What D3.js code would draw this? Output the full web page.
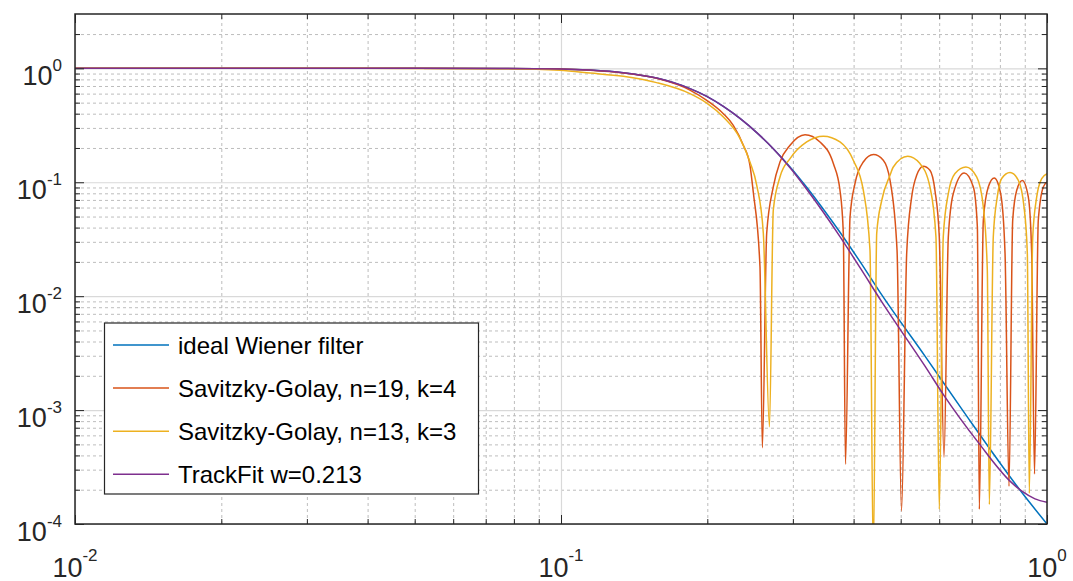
<!DOCTYPE html>
<html>
<head>
<meta charset="utf-8">
<script src="https://d3js.org/d3.v7.min.js"></script>
<style>
  body { margin: 0; padding: 0; background: #fff; }
  svg { display: block; font-family: "Liberation Sans", Arial, Helvetica, sans-serif; }
  .grid path { stroke: none; }
  .grid.major line { stroke: #d9d9d9; stroke-width: 1.2; }
  .grid.minor line { stroke: #bdbdbd; stroke-width: 1; stroke-dasharray: 3,3; }
  .frame { fill: none; stroke: #262626; stroke-width: 1.5; }
  .ticks path { stroke: none; }
  .ticks line { stroke: #262626; stroke-width: 1; }
  .curve { fill: none; stroke-width: 1.5; }
  .ticklabel { fill: #262626; font-size: 27px; }
  .legend text { font-size: 24px; fill: #000; }
</style>
</head>
<body>
<div id="chart"></div>
<script>
// ---- data: [frequency, gain] ----
var seriesNames = ["ideal Wiener filter", "Savitzky-Golay, n=19, k=4",
                   "Savitzky-Golay, n=13, k=3", "TrackFit w=0.213"];
var seriesColors = ["#0072bd", "#d95319", "#edb120", "#7e2f8e"];

var wiener = [[0.01,1],[0.03,1],[0.05,1],[0.0749,0.998],[0.0995,0.988],[0.1148,0.966],
  [0.1343,0.917],[0.1573,0.822],[0.1842,0.664],[0.1995,0.568],[0.2158,0.464],[0.2335,0.3636],
  [0.2528,0.2729],[0.2734,0.1971],[0.296,0.1365],[0.3203,0.0904],[0.3466,0.058],[0.375,0.0364],
  [0.4143,0.0195],[0.4575,0.0102],[0.561,0.00298],[0.668,0.00102],[0.891,1.85e-4],[1.0,1e-4]];

var sg19 = [[0.01,1],[0.03,1],[0.05,1],[0.0749,0.998],[0.0995,0.986],[0.1148,0.963],[0.1343,0.912],
  [0.1573,0.817],[0.1842,0.645],[0.1995,0.524],[0.2158,0.40],[0.2262,0.316],[0.2372,0.211],
  [0.2448,0.141],[0.2487,0.0817],[0.2567,0.0181],[0.2596,4.67e-4],[0.265,0.0357],[0.2734,0.091],
  [0.2822,0.1507],[0.296,0.211],[0.3178,0.261],[0.3411,0.2257],[0.3634,0.1459],[0.375,0.0851],
  [0.381,0.0355],[0.3849,3.34e-4],[0.3933,0.0496],[0.4026,0.0974],[0.4188,0.1507],[0.4395,0.175],
  [0.4604,0.156],[0.4753,0.1042],[0.4914,0.0253],[0.5019,1.3e-4],[0.5144,0.0238],[0.5267,0.0743],
  [0.5393,0.1151],[0.5564,0.1381],[0.5743,0.1274],[0.588,0.0851],[0.6003,0.0331],[0.6139,3.85e-4],
  [0.6265,0.0331],[0.6415,0.0796],[0.6757,0.1207],[0.7055,0.091],[0.719,0.0405],[0.7257,1.35e-4],
  [0.7396,0.0464],[0.7572,0.091],[0.779,0.109],[0.8028,0.0796],[0.8197,0.0238],[0.8353,2.15e-4],
  [0.85,0.0464],[0.8664,0.0851],[0.8896,0.1035],[0.9152,0.0743],[0.93,0.0238],[0.9425,2.75e-4],
  [0.9596,0.0464],[0.9826,0.091],[1.0,0.1006]];

var sg13 = [[0.01,1],[0.03,1],[0.05,0.999],[0.0749,0.992],[0.0995,0.960],[0.1148,0.909],[0.1343,0.851],
  [0.1573,0.749],[0.1842,0.600],[0.1995,0.496],[0.2158,0.374],[0.2335,0.243],[0.2448,0.1507],
  [0.2528,0.0941],[0.2608,0.0357],[0.2685,7.14e-4],[0.2734,0.0568],[0.2822,0.1113],[0.296,0.1614],
  [0.3203,0.2257],[0.3466,0.2532],[0.375,0.2257],[0.3994,0.156],[0.4188,0.0851],[0.4323,0.0253],
  [0.4391,5e-5],[0.4463,0.0357],[0.4571,0.0695],[0.4753,0.1151],[0.4828,0.1362],[0.5169,0.169],
  [0.5478,0.1459],[0.5743,0.091],[0.5909,0.0331],[0.6003,1.35e-4],[0.6117,0.0331],[0.6265,0.0796],
  [0.6467,0.1192],[0.6812,0.1362],[0.7166,0.1113],[0.7396,0.0607],[0.7537,0.0169],[0.7609,1.48e-4],
  [0.7753,0.0331],[0.7901,0.0743],[0.8067,0.1078],[0.8393,0.1216],[0.873,0.1041],[0.8969,0.0607],
  [0.911,0.0238],[0.9196,1.86e-4],[0.9346,0.0331],[0.9524,0.0743],[0.9752,0.1078],[1.0,0.1192]];

var trackfit = [[0.01,1],[0.03,1],[0.05,1],[0.0749,0.998],[0.0995,0.988],[0.1148,0.966],
  [0.1343,0.917],[0.1573,0.822],[0.1842,0.664],[0.1995,0.568],[0.2158,0.464],[0.2335,0.3636],
  [0.2528,0.2729],[0.2734,0.1971],[0.296,0.134],[0.3203,0.0868],[0.3466,0.0545],[0.375,0.0333],
  [0.4143,0.01725],[0.4575,0.00886],[0.561,0.00243],[0.6131,0.001354],[0.7245,5.1e-4],
  [0.8393,2.38e-4],[0.891,1.92e-4],[0.9447,1.66e-4],[1.0,1.55e-4]];

var xTickExps = [-2, -1, 0];
var yTickExps = [-4, -3, -2, -1, 0];
var xDomain = [0.01, 1];
var yDomain = [1e-4, 3];

// ---- layout ----
var W = 1073, H = 581;
var margin = {top: 14, right: 26, bottom: 57, left: 75},
    width = W - margin.left - margin.right,
    height = H - margin.top - margin.bottom;

var x = d3.scaleLog().domain(xDomain).range([0, width]);
var y = d3.scaleLog().domain(yDomain).range([height, 0]);

var svg = d3.select("#chart").append("svg")
    .attr("width", W)
    .attr("height", H);

var g = svg.append("g")
    .attr("transform", "translate(" + margin.left + "," + margin.top + ")");

// minor tick positions (2..9 per decade)
var xMinor = [], yMinor = [];
xTickExps.forEach(function(e) {
  for (var m = 2; m <= 9; m++) {
    var v = m * Math.pow(10, e);
    if (v < xDomain[1]) xMinor.push(v);
  }
});
yTickExps.forEach(function(e) {
  for (var m = 2; m <= 9; m++) {
    var v = m * Math.pow(10, e);
    if (v < yDomain[1]) yMinor.push(v);
  }
});
var xMajor = xTickExps.map(function(e) { return Math.pow(10, e); });
var yMajor = yTickExps.map(function(e) { return Math.pow(10, e); });

// grids
g.append("g").attr("class", "grid minor")
  .attr("transform", "translate(0," + height + ")")
  .call(d3.axisBottom(x).tickValues(xMinor).tickSize(-height).tickFormat(""));
g.append("g").attr("class", "grid minor")
  .call(d3.axisLeft(y).tickValues(yMinor).tickSize(-width).tickFormat(""));
g.append("g").attr("class", "grid major")
  .attr("transform", "translate(0," + height + ")")
  .call(d3.axisBottom(x).tickValues(xMajor).tickSize(-height).tickFormat(""));
g.append("g").attr("class", "grid major")
  .call(d3.axisLeft(y).tickValues(yMajor).tickSize(-width).tickFormat(""));

// curves
g.append("clipPath").attr("id", "clip")
  .append("rect").attr("width", width).attr("height", height);

var line = d3.line()
  .x(function(d) { return x(d[0]); })
  .y(function(d) { return y(d[1]); })
  .curve(d3.curveMonotoneX);

var allSeries = [wiener, sg19, sg13, trackfit];
g.append("g").attr("clip-path", "url(#clip)")
  .selectAll("path")
  .data(allSeries)
  .enter().append("path")
  .attr("class", "curve")
  .attr("d", line)
  .style("stroke", function(d, i) { return seriesColors[i]; });

// frame ticks (inward, all four sides)
function tickSide(axis, scale, vals, len, tr) {
  var a = g.append("g").attr("class", "ticks")
    .call(axis(scale).tickValues(vals).tickSize(-len).tickFormat(""));
  if (tr) a.attr("transform", tr);
}
tickSide(d3.axisBottom, x, xMinor, 5, "translate(0," + height + ")");
tickSide(d3.axisBottom, x, xMajor, 9, "translate(0," + height + ")");
tickSide(d3.axisTop, x, xMinor, 5, null);
tickSide(d3.axisTop, x, xMajor, 9, null);
tickSide(d3.axisLeft, y, yMinor, 5, null);
tickSide(d3.axisLeft, y, yMajor, 9, null);
tickSide(d3.axisRight, y, yMinor, 5, "translate(" + width + ",0)");
tickSide(d3.axisRight, y, yMajor, 9, "translate(" + width + ",0)");

g.append("rect").attr("class", "frame")
  .attr("width", width).attr("height", height);

// tick labels 10^e
xTickExps.forEach(function(e) {
  var t = g.append("text").attr("class", "ticklabel")
    .attr("x", x(Math.pow(10, e)))
    .attr("y", height + 52.5)
    .attr("text-anchor", "middle");
  t.append("tspan").text("10");
  t.append("tspan").attr("dy", -16).style("font-size", "17px").text(String(e));
});
yTickExps.forEach(function(e) {
  var t = g.append("text").attr("class", "ticklabel")
    .attr("x", -13)
    .attr("y", y(Math.pow(10, e)) + 16.5)
    .attr("text-anchor", "end");
  t.append("tspan").text("10");
  t.append("tspan").attr("dy", -14).style("font-size", "17px").text(String(e));
});

// legend
var legend = svg.append("g").attr("class", "legend")
  .attr("transform", "translate(104.5,323)");
legend.append("rect")
  .attr("width", 374).attr("height", 171)
  .style("fill", "#fff").style("stroke", "#262626").style("stroke-width", 1.2);
var rows = legend.selectAll(".row").data(seriesNames).enter().append("g")
  .attr("class", "row")
  .attr("transform", function(d, i) { return "translate(0," + (22 + i * 43.1) + ")"; });
rows.append("line")
  .attr("x1", 8.5).attr("x2", 64.5)
  .style("stroke", function(d, i) { return seriesColors[i]; })
  .style("stroke-width", 1.5);
rows.append("text")
  .attr("x", 73.5).attr("y", 8.7)
  .text(function(d) { return d; });
</script>
</body>
</html>
